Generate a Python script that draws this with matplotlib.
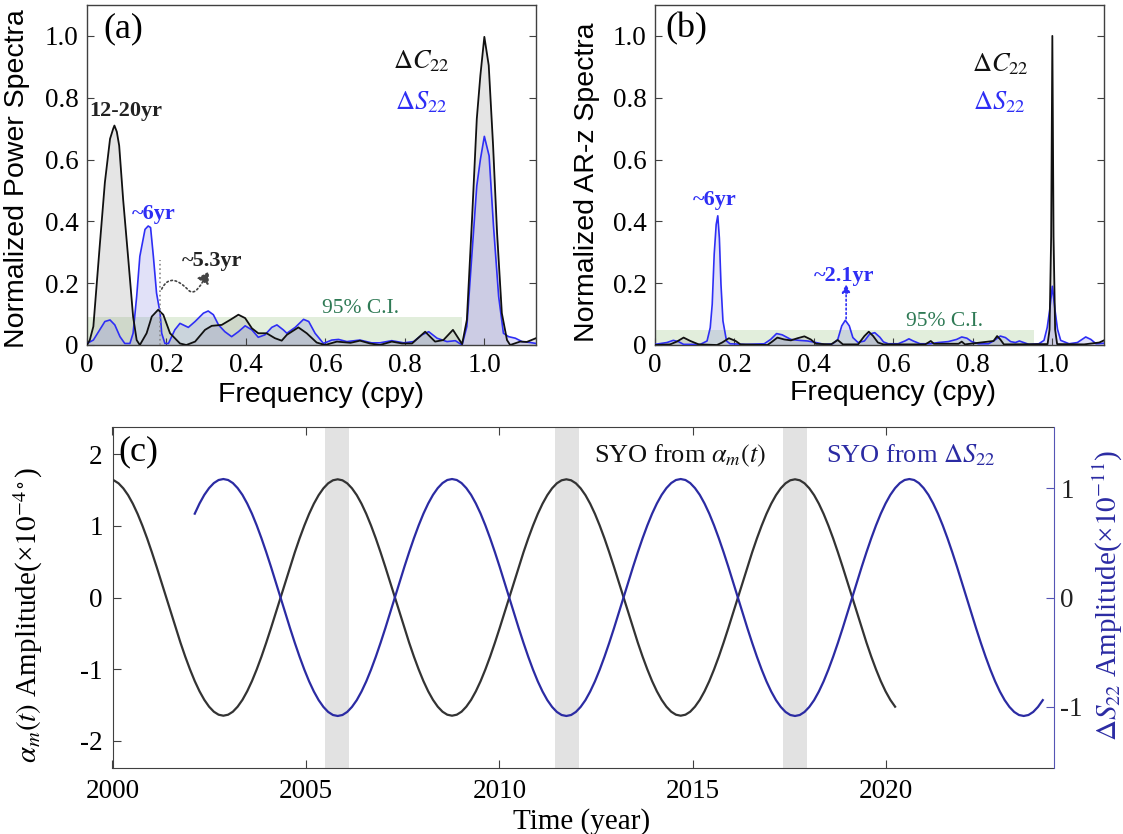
import matplotlib
matplotlib.use('Agg')
import matplotlib.pyplot as plt
from matplotlib.path import Path
from matplotlib.patches import FancyArrowPatch

plt.rcParams['font.family'] = 'Liberation Serif'
plt.rcParams['mathtext.fontset'] = 'stix'
plt.rcParams['axes.unicode_minus'] = False

# ---------------- data: panel (a) normalized power spectra ----------------
freq_a_c22 = [0.0, 0.007, 0.016, 0.024, 0.032, 0.045, 0.058, 0.066, 0.069, 0.075, 0.081, 0.091,
              0.104, 0.116, 0.125, 0.133, 0.150, 0.163, 0.179, 0.192, 0.209, 0.234, 0.250, 0.272,
              0.297, 0.314, 0.339, 0.360, 0.381, 0.398, 0.415, 0.431, 0.452, 0.473, 0.490, 0.503,
              0.532, 0.553, 0.578, 0.599, 0.629, 0.663, 0.687, 0.712, 0.737, 0.767, 0.793, 0.818,
              0.851, 0.876, 0.897, 0.921, 0.944, 0.956, 0.969, 0.981, 0.990, 1.000, 1.011, 1.022,
              1.032, 1.044, 1.057, 1.065, 1.090, 1.107, 1.130]
power_a_c22 = [0.0, 0.016, 0.06, 0.19, 0.32, 0.526, 0.667, 0.70, 0.71, 0.69, 0.645, 0.47,
               0.276, 0.092, 0.016, 0.0, 0.038, 0.092, 0.114, 0.098, 0.038, 0.005, 0.0, 0.011,
               0.049, 0.062, 0.065, 0.081, 0.098, 0.087, 0.054, 0.038, 0.038, 0.022, 0.014, 0.033,
               0.057, 0.038, 0.008, 0.0, 0.011, 0.007, 0.014, 0.005, 0.0, 0.011, 0.005, 0.005,
               0.043, 0.011, 0.016, 0.049, 0.003, 0.081, 0.407, 0.732, 0.872, 0.997, 0.905, 0.645,
               0.363, 0.103, 0.016, 0.0, 0.011, 0.010, 0.022]

freq_a_s22 = [0.0, 0.016, 0.032, 0.045, 0.058, 0.070, 0.083, 0.095, 0.108, 0.116, 0.125, 0.133,
              0.146, 0.154, 0.160, 0.167, 0.175, 0.184, 0.188, 0.196, 0.205, 0.221, 0.234, 0.255,
              0.272, 0.293, 0.305, 0.318, 0.331, 0.347, 0.364, 0.381, 0.398, 0.415, 0.431, 0.448,
              0.465, 0.478, 0.494, 0.503, 0.524, 0.545, 0.558, 0.574, 0.595, 0.616, 0.633, 0.654,
              0.687, 0.716, 0.737, 0.767, 0.797, 0.822, 0.843, 0.860, 0.881, 0.906, 0.927, 0.944,
              0.956, 0.969, 0.981, 0.990, 1.000, 1.012, 1.023, 1.036, 1.048, 1.061, 1.078, 1.095,
              1.116, 1.130]
power_a_s22 = [0.005, 0.016, 0.049, 0.076, 0.081, 0.065, 0.027, 0.005, 0.005, 0.038, 0.157, 0.287,
               0.374, 0.385, 0.380, 0.287, 0.168, 0.103, 0.038, 0.005, 0.005, 0.049, 0.070, 0.057,
               0.076, 0.103, 0.110, 0.098, 0.065, 0.043, 0.027, 0.043, 0.062, 0.049, 0.025, 0.033,
               0.057, 0.065, 0.049, 0.038, 0.057, 0.083, 0.076, 0.038, 0.005, 0.016, 0.018, 0.011,
               0.016, 0.007, 0.007, 0.014, 0.007, 0.011, 0.033, 0.043, 0.022, 0.011, 0.014, 0.0,
               0.060, 0.298, 0.515, 0.600, 0.675, 0.612, 0.385, 0.157, 0.038, 0.027, 0.022, 0.011,
               0.008, 0.005]

# ---------------- data: panel (b) normalized AR-z spectra ----------------
freq_b_c22 = [0.0, 0.038, 0.055, 0.072, 0.089, 0.110, 0.156, 0.169, 0.186, 0.203, 0.215, 0.283,
              0.295, 0.308, 0.325, 0.342, 0.359, 0.376, 0.392, 0.405, 0.443, 0.460, 0.473, 0.511,
              0.527, 0.538, 0.549, 0.561, 0.575, 0.680, 0.688, 0.694, 0.702, 0.764, 0.772, 0.780,
              0.852, 0.861, 0.869, 0.878, 0.988, 0.993, 0.997, 1.000, 1.003, 1.007, 1.012, 1.080,
              1.118, 1.130]
power_b_c22 = [0.0, 0.002, 0.011, 0.024, 0.013, 0.002, 0.0, 0.008, 0.022, 0.013, 0.002, 0.0,
               0.011, 0.024, 0.018, 0.015, 0.022, 0.028, 0.018, 0.004, 0.002, 0.016, 0.002, 0.002,
               0.029, 0.043, 0.029, 0.008, 0.002, 0.002, 0.008, 0.013, 0.004, 0.004, 0.011, 0.002,
               0.013, 0.029, 0.018, 0.002, 0.003, 0.050, 0.350, 1.000, 0.350, 0.050, 0.003, 0.002,
               0.008, 0.015]

freq_b_s22 = [0.0, 0.030, 0.046, 0.059, 0.072, 0.114, 0.131, 0.139, 0.144, 0.149, 0.154, 0.158,
              0.162, 0.166, 0.171, 0.180, 0.189, 0.228, 0.275, 0.291, 0.306, 0.320, 0.342, 0.363,
              0.384, 0.405, 0.426, 0.447, 0.460, 0.470, 0.479, 0.489, 0.498, 0.511, 0.527, 0.540,
              0.553, 0.566, 0.575, 0.587, 0.612, 0.629, 0.639, 0.650, 0.667, 0.692, 0.713, 0.738,
              0.759, 0.772, 0.785, 0.797, 0.814, 0.839, 0.852, 0.869, 0.882, 0.895, 0.907, 0.917,
              0.928, 0.941, 0.966, 0.979, 0.987, 0.993, 1.000, 1.007, 1.013, 1.021, 1.042, 1.063,
              1.084, 1.097, 1.110, 1.130]
power_b_s22 = [0.002, 0.008, 0.015, 0.011, 0.002, 0.002, 0.013, 0.056, 0.132, 0.294, 0.390, 0.418,
               0.346, 0.197, 0.078, 0.013, 0.004, 0.002, 0.004, 0.018, 0.037, 0.033, 0.018, 0.015,
               0.013, 0.008, 0.002, 0.004, 0.018, 0.062, 0.080, 0.062, 0.024, 0.008, 0.013, 0.035,
               0.040, 0.025, 0.010, 0.004, 0.004, 0.013, 0.020, 0.013, 0.004, 0.004, 0.008, 0.011,
               0.018, 0.026, 0.022, 0.011, 0.004, 0.004, 0.013, 0.029, 0.024, 0.011, 0.008, 0.013,
               0.008, 0.002, 0.004, 0.015, 0.056, 0.110, 0.190, 0.110, 0.051, 0.015, 0.004, 0.008,
               0.026, 0.018, 0.004, 0.006]

ci_a = (0.944, 0.092)   # 95% C.I. band: right frequency, level
ci_b = (0.955, 0.049)

freq_ticks = [0, 0.2, 0.4, 0.6, 0.8, 1.0]
freq_labels = ['0', '0.2', '0.4', '0.6', '0.8', '1.0']

# ---------------- data: panel (c) SYO signals ----------------
syo_year = [
    1999.910, 2000.033, 2000.156, 2000.279, 2000.403, 2000.526, 2000.649, 2000.772,
    2000.895, 2001.018, 2001.141, 2001.264, 2001.388, 2001.511, 2001.634, 2001.757,
    2001.880, 2002.003, 2002.126, 2002.249, 2002.373, 2002.496, 2002.619, 2002.742,
    2002.865, 2002.988, 2003.111, 2003.234, 2003.358, 2003.481, 2003.604, 2003.727,
    2003.850, 2003.973, 2004.096, 2004.219, 2004.343, 2004.466, 2004.589, 2004.712,
    2004.835, 2004.958, 2005.081, 2005.204, 2005.328, 2005.451, 2005.574, 2005.697,
    2005.820, 2005.943, 2006.066, 2006.189, 2006.313, 2006.436, 2006.559, 2006.682,
    2006.805, 2006.928, 2007.051, 2007.174, 2007.298, 2007.421, 2007.544, 2007.667,
    2007.790, 2007.913, 2008.036, 2008.159, 2008.283, 2008.406, 2008.529, 2008.652,
    2008.775, 2008.898, 2009.021, 2009.144, 2009.268, 2009.391, 2009.514, 2009.637,
    2009.760, 2009.883, 2010.006, 2010.129, 2010.253, 2010.376, 2010.499, 2010.622,
    2010.745, 2010.868, 2010.991, 2011.114, 2011.238, 2011.361, 2011.484, 2011.607,
    2011.730, 2011.853, 2011.976, 2012.099, 2012.223, 2012.346, 2012.469, 2012.592,
    2012.715, 2012.838, 2012.961, 2013.084, 2013.208, 2013.331, 2013.454, 2013.577,
    2013.700, 2013.823, 2013.946, 2014.069, 2014.193, 2014.316, 2014.439, 2014.562,
    2014.685, 2014.808, 2014.931, 2015.054, 2015.178, 2015.301, 2015.424, 2015.547,
    2015.670, 2015.793, 2015.916, 2016.039, 2016.163, 2016.286, 2016.409, 2016.532,
    2016.655, 2016.778, 2016.901, 2017.024, 2017.148, 2017.271, 2017.394, 2017.517,
    2017.640, 2017.763, 2017.886, 2018.009, 2018.133, 2018.256, 2018.379, 2018.502,
    2018.625, 2018.748, 2018.871, 2018.994, 2019.118, 2019.241, 2019.364, 2019.487,
    2019.610, 2019.733, 2019.856, 2019.979, 2020.103, 2020.226, 2020.349, 2020.472,
    2020.595, 2020.718, 2020.841, 2020.964, 2021.088, 2021.211, 2021.334, 2021.457,
    2021.580, 2021.703, 2021.826, 2021.949, 2022.073, 2022.196, 2022.319, 2022.442,
    2022.565, 2022.688, 2022.811, 2022.934, 2023.058, 2023.181, 2023.304, 2023.427,
    2023.550, 2023.673, 2023.796, 2023.919, 2024.043]

# SYO from alpha_m(t) [1e-4 deg], at syo_year[0:166]
syo_alpha = [
    1.650, 1.636, 1.594, 1.524, 1.429, 1.309, 1.167, 1.004, 0.825, 0.631, 0.427, 0.215,
    0.000, -0.215, -0.427, -0.631, -0.825, -1.004, -1.167, -1.309, -1.429, -1.524, -1.594, -1.636,
    -1.650, -1.636, -1.594, -1.524, -1.429, -1.309, -1.167, -1.004, -0.825, -0.631, -0.427, -0.215,
    0.000, 0.215, 0.427, 0.631, 0.825, 1.004, 1.167, 1.309, 1.429, 1.524, 1.594, 1.636,
    1.650, 1.636, 1.594, 1.524, 1.429, 1.309, 1.167, 1.004, 0.825, 0.631, 0.427, 0.215,
    0.000, -0.215, -0.427, -0.631, -0.825, -1.004, -1.167, -1.309, -1.429, -1.524, -1.594, -1.636,
    -1.650, -1.636, -1.594, -1.524, -1.429, -1.309, -1.167, -1.004, -0.825, -0.631, -0.427, -0.215,
    0.000, 0.215, 0.427, 0.631, 0.825, 1.004, 1.167, 1.309, 1.429, 1.524, 1.594, 1.636,
    1.650, 1.636, 1.594, 1.524, 1.429, 1.309, 1.167, 1.004, 0.825, 0.631, 0.427, 0.215,
    0.000, -0.215, -0.427, -0.631, -0.825, -1.004, -1.167, -1.309, -1.429, -1.524, -1.594, -1.636,
    -1.650, -1.636, -1.594, -1.524, -1.429, -1.309, -1.167, -1.004, -0.825, -0.631, -0.427, -0.215,
    0.000, 0.215, 0.427, 0.631, 0.825, 1.004, 1.167, 1.309, 1.429, 1.524, 1.594, 1.636,
    1.650, 1.636, 1.594, 1.524, 1.429, 1.309, 1.167, 1.004, 0.825, 0.631, 0.427, 0.215,
    0.000, -0.215, -0.427, -0.631, -0.825, -1.004, -1.167, -1.309, -1.429, -1.524]

# SYO from Delta S22 [1e-11], at syo_year[18:197]
syo_s22 = [
    0.767, 0.860, 0.939, 1.001, 1.047, 1.075, 1.084, 1.075, 1.047, 1.001, 0.939, 0.860,
    0.767, 0.660, 0.542, 0.415, 0.281, 0.141, 0.000, -0.141, -0.281, -0.415, -0.542, -0.660,
    -0.767, -0.860, -0.939, -1.001, -1.047, -1.075,
    -1.084, -1.075, -1.047, -1.001, -0.939, -0.860, -0.767, -0.660, -0.542, -0.415, -0.281, -0.141,
    0.000, 0.141, 0.281, 0.415, 0.542, 0.660, 0.767, 0.860, 0.939, 1.001, 1.047, 1.075,
    1.084, 1.075, 1.047, 1.001, 0.939, 0.860, 0.767, 0.660, 0.542, 0.415, 0.281, 0.141,
    0.000, -0.141, -0.281, -0.415, -0.542, -0.660, -0.767, -0.860, -0.939, -1.001, -1.047, -1.075,
    -1.084, -1.075, -1.047, -1.001, -0.939, -0.860, -0.767, -0.660, -0.542, -0.415, -0.281, -0.141,
    0.000, 0.141, 0.281, 0.415, 0.542, 0.660, 0.767, 0.860, 0.939, 1.001, 1.047, 1.075,
    1.084, 1.075, 1.047, 1.001, 0.939, 0.860, 0.767, 0.660, 0.542, 0.415, 0.281, 0.141,
    0.000, -0.141, -0.281, -0.415, -0.542, -0.660, -0.767, -0.860, -0.939, -1.001, -1.047, -1.075,
    -1.084, -1.075, -1.047, -1.001, -0.939, -0.860, -0.767, -0.660, -0.542, -0.415, -0.281, -0.141,
    0.000, 0.141, 0.281, 0.415, 0.542, 0.660, 0.767, 0.860, 0.939, 1.001, 1.047, 1.075,
    1.084, 1.075, 1.047, 1.001, 0.939, 0.860, 0.767, 0.660, 0.542, 0.415, 0.281, 0.141,
    0.000, -0.141, -0.281, -0.415, -0.542, -0.660, -0.767, -0.860, -0.939, -1.001, -1.047, -1.075,
    -1.084, -1.075, -1.047, -1.001, -0.939]

shade_years = [(2005.49, 2006.12), (2011.43, 2012.05), (2017.32, 2017.95)]

year_ticks = [2000, 2005, 2010, 2015, 2020]
left_ticks = [-2, -1, 0, 1, 2]
right_ticks = [-1, 0, 1]

# ---------------- styling ----------------
W, H = 1123, 834
SANS = 'Liberation Sans'
BLUE = '#2e2ef5'
NAVY = '#2b2ba3'
GREEN = '#2f7a55'
SPINE = '#404040'


def box(l, t, r, b):
    return [l / W, 1 - b / H, (r - l) / W, (b - t) / H]


fig = plt.figure(figsize=(W / 100, H / 100), dpi=100)
axa = fig.add_axes(box(87, 5, 536, 345))
axb = fig.add_axes(box(655, 5, 1104, 345))
axc = fig.add_axes(box(112.5, 427, 1053.5, 768))


def spectrum(ax, fc, pc, fs, ps, ci, ylabel, ylx, yly, xlx, xly):
    ax.fill_between([0, ci[0]], [ci[1], ci[1]], 0, color='#e2eedc', lw=0, zorder=0)
    ax.fill_between(fc, pc, 0, color='#8c8c8c', alpha=0.22, lw=0, zorder=1)
    ax.fill_between(fs, ps, 0, color='#6c6ce0', alpha=0.20, lw=0, zorder=1)
    ax.plot(fs, ps, color=BLUE, lw=1.2, zorder=3)
    ax.plot(fc, pc, color='#111111', lw=1.3, zorder=4)
    ax.set_xlim(0, 1.13)
    ax.set_ylim(0, 1.1)
    ax.set_xticks(freq_ticks)
    ax.set_xticklabels(freq_labels)
    ax.set_yticks(freq_ticks)
    ax.set_yticklabels(freq_labels)
    ax.tick_params(direction='in', top=False, right=True, length=5, width=0.8,
                   labelsize=19.5, pad=6, color=SPINE)
    for s in ax.spines.values():
        s.set_color(SPINE)
        s.set_linewidth(1.0)
    ax.set_ylabel(ylabel, fontsize=20.5, family=SANS)
    ax.yaxis.set_label_coords(ylx, yly)
    ax.set_xlabel('Frequency (cpy)', fontsize=20.5, family=SANS, va='top')
    ax.xaxis.set_label_coords(xlx, xly)


spectrum(axa, freq_a_c22, power_a_c22, freq_a_s22, power_a_s22, ci_a,
         'Normalized Power Spectra', -0.126, 0.49, 0.522, -0.108)
spectrum(axb, freq_b_c22, power_b_c22, freq_b_s22, power_b_s22, ci_b,
         'Normalized AR-z Spectra', -0.122, 0.48, 0.53, -0.103)

# panel (a) annotations
axa.text(0.040, 1.024, '(a)', fontsize=26, ha='left', va='center')
axa.text(0.841, 0.917, r'$\Delta C_{22}$', fontsize=19, ha='center', va='center', color='#111111')
axa.text(0.841, 0.787, r'$\Delta S_{22}$', fontsize=19, ha='center', va='center', color=BLUE)
axa.text(0.098, 0.758, '12-20yr', fontsize=16, fontweight='bold', ha='center', va='center', color='#222222')
axa.text(0.167, 0.423, '~6yr', fontsize=16, fontweight='bold', ha='center', va='center', color=BLUE)
axa.text(0.315, 0.273, '~5.3yr', fontsize=16, fontweight='bold', ha='center', va='center', color='#222222')
axa.text(0.689, 0.119, '95% C.I.', fontsize=15.5, ha='center', va='center', color=GREEN)
axa.plot([0.184, 0.184], [0.0, 0.276], ls=':', color='#888888', lw=1.2, zorder=5)
curl = Path([(0.188, 0.181), (0.205, 0.228), (0.232, 0.208), (0.255, 0.178),
             (0.272, 0.155), (0.288, 0.198), (0.307, 0.238)],
            [Path.MOVETO, Path.CURVE4, Path.CURVE4, Path.CURVE4,
             Path.CURVE4, Path.CURVE4, Path.CURVE4])
axa.add_patch(FancyArrowPatch(path=curl, arrowstyle='-|>,head_length=7,head_width=4',
                              linestyle=(0, (1, 1.6)), color='#444444', lw=1.2,
                              mutation_scale=1, zorder=5))

# panel (b) annotations
axb.text(0.026, 1.024, '(b)', fontsize=26, ha='left', va='center')
axb.text(0.868, 0.910, r'$\Delta C_{22}$', fontsize=19, ha='center', va='center', color='#111111')
axb.text(0.866, 0.784, r'$\Delta S_{22}$', fontsize=19, ha='center', va='center', color=BLUE)
axb.text(0.151, 0.470, '~6yr', fontsize=16, fontweight='bold', ha='center', va='center', color=BLUE)
axb.text(0.475, 0.224, '~2.1yr', fontsize=16, fontweight='bold', ha='center', va='center', color=BLUE)
axb.text(0.729, 0.077, '95% C.I.', fontsize=15.5, ha='center', va='center', color=GREEN)
axb.annotate('', xy=(0.481, 0.197), xytext=(0.481, 0.085),
             arrowprops=dict(arrowstyle='-|>,head_length=0.5,head_width=0.25', linestyle=':',
                             color=BLUE, lw=1.2, shrinkA=0, shrinkB=0), zorder=5)

# ---------------- panel (c) ----------------
for a, b in shade_years:
    axc.axvspan(a, b, color='#e2e2e2', lw=0, zorder=0)
axc.plot(syo_year[:166], syo_alpha, color='#333333', lw=1.6, zorder=3)
axc.set_xlim(2000, 2024.32)
axc.set_ylim(-2.38, 2.38)
axc.set_xticks(year_ticks)
axc.set_xticklabels([str(y) for y in year_ticks])
axc.set_yticks(left_ticks)
axc.set_yticklabels([str(v) for v in left_ticks])
axc.tick_params(direction='in', top=True, right=False, length=6, width=0.8,
                labelsize=19.5, pad=8, color=SPINE)
axc.tick_params(axis='y', pad=7)
for s in ['left', 'top', 'bottom']:
    axc.spines[s].set_color(SPINE)
axc.spines['right'].set_visible(False)
axc.set_xlabel('Time (year)', fontsize=21, va='top')
axc.xaxis.set_label_coords(0.499, -0.117)
axc.set_ylabel(r'$\alpha_m(t)$ Amplitude(×$10^{-4\circ}$)', fontsize=21)
axc.yaxis.set_label_coords(-0.072, 0.449)
axc.text(2000.14, 2.03, '(c)', fontsize=26, ha='left', va='center')
axc.text(2012.44, 1.98, r'SYO from $\alpha_m(t)$', fontsize=19, ha='left', va='center', color='#111111')
axc.text(2018.44, 1.98, r'SYO from $\Delta S_{22}$', fontsize=19, ha='left', va='center', color=NAVY)

axc2 = axc.twinx()
axc2.plot(syo_year[18:], syo_s22, color=NAVY, lw=1.6, zorder=3)
axc2.set_ylim(-1.56, 1.56)
axc2.set_yticks(right_ticks)
axc2.set_yticklabels([str(v) for v in right_ticks])
axc2.tick_params(axis='y', direction='in', length=6, width=0.8, labelsize=19.5, pad=5,
                 color='#5555b5', labelcolor='#222222')
for s in ['left', 'top', 'bottom']:
    axc2.spines[s].set_visible(False)
axc2.spines['right'].set_color('#5555b5')
axc2.set_ylabel(r'$\Delta S_{22}$ Amplitude(×$10^{-11}$)', fontsize=21, color=NAVY)
axc2.yaxis.set_label_coords(1.040, 0.507)

fig.savefig('out.png', dpi=100)
